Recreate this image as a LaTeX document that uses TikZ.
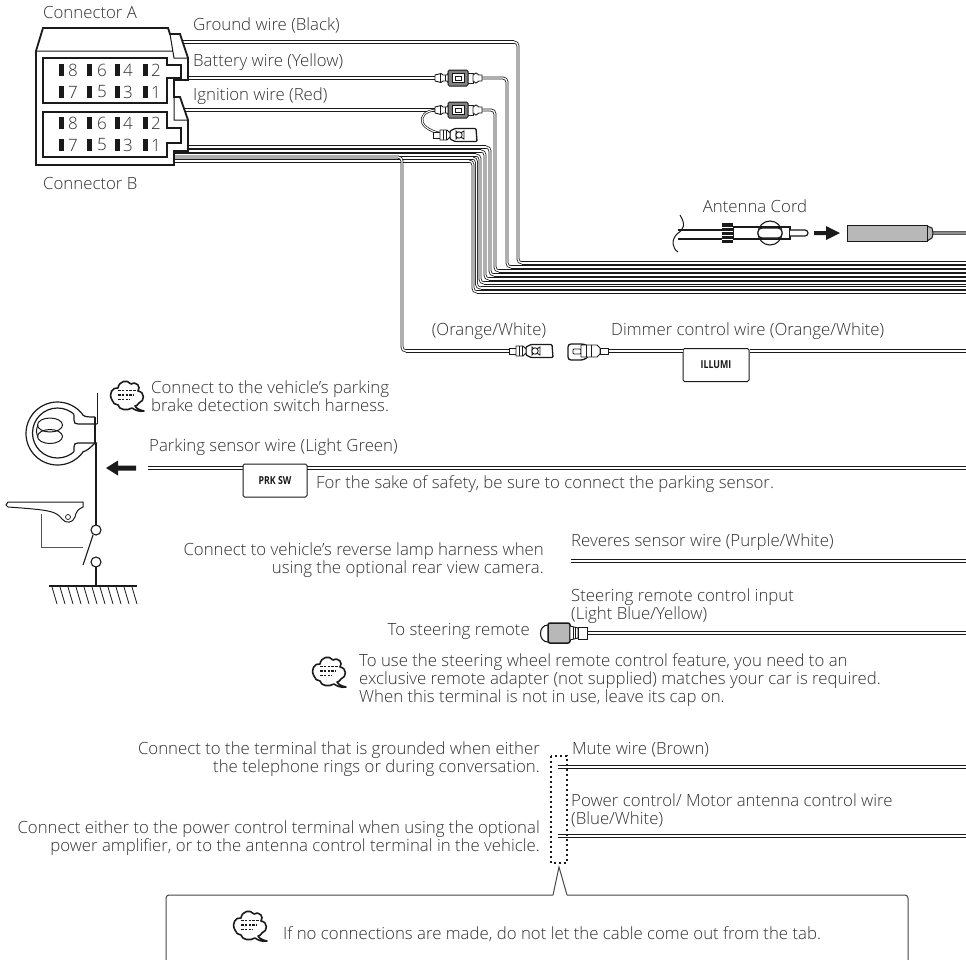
\documentclass[tikz,border=0pt]{standalone}
\usepackage{fontspec}
\setmainfont{Open Sans Light}
\newfontfamily\tagfont{Open Sans}[FakeStretch=0.8]
\definecolor{ink}{HTML}{1A1A1A}
\definecolor{txt}{HTML}{303030}
\newcommand{\straightwire}[2]{\draw[white,line width=3pt] (#1) -- (#2); \draw[ink,line width=.9pt] ([yshift=1.1pt]#1) -- ([yshift=1.1pt]#2); \draw[ink,line width=.9pt] ([yshift=-1.1pt]#1) -- ([yshift=-1.1pt]#2);}
\tikzset{
  lab/.style={inner sep=0,text=txt,font=\fontsize{16.8}{18}\selectfont,anchor=west,align=left},
  labr/.style={inner sep=0,text=txt,font=\fontsize{16.8}{18}\selectfont,anchor=east,align=right},
  wire/.style={draw=ink,line width=.8pt,double=white,double distance=1.3pt,rounded corners=4pt},
  tagbox/.style={draw=ink,line width=1pt,fill=white,rounded corners=1.5pt,inner sep=0,font=\fontsize{11}{12}\tagfont\bfseries,text=ink},
  part/.style={draw=ink,line width=.9pt,fill=white},
  pin/.style={fill=ink,draw=none},
  digit/.style={inner sep=0,text=txt,font=\fontsize{17}{18}\selectfont},
  icon/.pic={
    \draw[ink,line width=1.6pt,fill=white,line join=round] (-15,5) .. controls (-19,-2) and (-14,-8) .. (-9,-7) .. controls (-8,-14) and (0,-16) .. (4,-11) .. controls (10,-14) and (14,-8) .. (11,-4) .. controls (18,-3) and (18,6) .. (12,8) .. controls (11,10) and (9,11) .. (8,11) .. controls (9,13) and (12,15) .. (17,16) .. controls (12,17) and (8,15) .. (5,13) .. controls (0,16) and (-8,15) .. (-9,10) .. controls (-12,10) and (-14,8) .. (-15,5) -- cycle;
    \draw[ink,line width=1.5pt,dash pattern=on 2.6pt off 1.2pt] (-9,-4.5)--(10,-4.5) (-9,0)--(7,0) (-9,4.5)--(3,4.5);
  },
  malePlug/.pic={
    \draw[part] (-23,-3)--(-17,-4.5)--(-15,-3)--(-11,-3)--(-9,-6)--(-9,6)--(-11,3)--(-15,3)--(-17,4.5)--(-23,3)--cycle;
    \draw[part] (9,-5)--(15,-5)--(15,5)--(9,5)--cycle;
    \draw[part] (15,-3)--(18,-5)--(21,-3)--(24,-3)--(24,3)--(21,3)--(18,5)--(15,3)--cycle;
    \draw[draw=ink,fill=ink!55,line width=1pt,rounded corners=1.5pt] (-10,-8)--(10,-8)--(10,8)--(-10,8)--cycle;
    \draw[part] (-6,-4.5) rectangle (6,4.5);
    \draw[ink,line width=.7pt] (-3,-2) rectangle (3,2);
    \draw[ink,line width=.7pt] (-18,-4)--(-18,4) (-13,-3)--(-13,3);
  },
  femalePlug/.pic={
    \draw[part] (-23,-3) rectangle (-15,3);
    \draw[part,line width=1.3pt,rounded corners=1pt] (-6,-4)--(-1,-6.5)--(20,-6.5)--(21,6.5)--(-1,6.5)--(-6,4)--cycle;
    \draw[part] (-16,-5)--(-9,-5)--(-6,-2)--(-6,2)--(-9,5)--(-16,5)--cycle;
    \draw[ink,line width=.7pt] (-13,-5)--(-13,5) (-10,-5)--(-10,5);
    \draw[part] (0,-4)--(3,-1)--(8,-4)--(8,4)--(3,1)--(0,4)--cycle;
    \draw[part] (3,0) circle (3.2);
  },
}
\begin{document}
\begin{tikzpicture}[x=1pt,y=-1pt,line cap=butt]
\useasboundingbox[fill=white] (0,0) rectangle (966,959);
% ---------- bundle and top wires
\coordinate (endR) at (966,0);
\foreach \n/\xx/\ya/\yb in {w4/490/147/275,w5/485/151/279,w6/480/155/283,w7/476.5/158/288,w8/473/161/292}{
  \coordinate (\n s) at (170,\ya);
  \coordinate (\n c) at (\xx,\yb);
  \coordinate (\n t) at (\xx-4,\ya);
  \coordinate (\n h) at (\xx+4,\yb);
  \coordinate (\n e) at (966,\yb);
  \draw[wire] (\n s) -| (\n c) -- (\n e);
  \straightwire{\n s}{\n t}
  \straightwire{\n h}{\n e}
}
% dimmer wire
\coordinate (dimS) at (170,157);
\coordinate (dimC) at (402,351);
\coordinate (plugOW) at (532,351);
\coordinate (sockOW) at (590,351);
\coordinate (dimH) at (406,351);
\draw[wire] (dimS) -| (dimC) -- (plugOW);
\straightwire{dimH}{plugOW}
% ignition
\coordinate (ignS) at (170,110);
\coordinate (ignP) at (458,110);
\coordinate (ignC) at (495,271);
\coordinate (ignF) at (456,135);
\coordinate (ignH) at (499,271);
\coordinate (ignE) at (966,271);
\draw[wire] (ignP) -| (ignC) -- (ignE);
\straightwire{ignS}{ignP}
\straightwire{ignH}{ignE}
\draw[ink,line width=.7pt,double=white,double distance=1pt] (435,110) .. controls (415,112) and (415,134) .. (ignF);
% battery
\coordinate (batS) at (170,78);
\coordinate (batP) at (458,78);
\coordinate (batC) at (507,267);
\coordinate (batH) at (511,267);
\coordinate (batE) at (966,267);
\draw[wire] (batP) -| (batC) -- (batE);
\straightwire{batS}{batP}
\straightwire{batH}{batE}
% ground
\coordinate (gndS) at (170,42);
\coordinate (gndC) at (518,263);
\coordinate (gndT) at (514,42);
\coordinate (gndH) at (522,263);
\coordinate (gndE) at (966,263);
\draw[wire] (gndS) -| (gndC) -- (gndE);
\straightwire{gndS}{gndT}
\straightwire{gndH}{gndE}
\pic at (batP) {malePlug};
\pic at (ignP) {malePlug};
\pic at (ignF) {femalePlug};
% ---------- connector housing
\draw[ink,line width=1.8pt,fill=white,line join=miter] (43,28)--(168,28)--(170,34)--(180,34)--(188,58)--(188,80)--(174,80)--(174,97)--(180,97)--(188,120)--(188,151)--(174,151)--(174,165)--(36,165)--(36,51)--cycle;
\draw[ink,line width=1pt] (36,51)--(173,51) (170,34)--(174,58)--(188,58) (174,97)--(174,120)--(188,120);
\draw[ink,line width=1.2pt,fill=white] (43,58)--(167,58)--(167,65)--(181,65)--(181,78)--(167,78)--(167,103)--(43,103)--cycle;
\draw[ink,line width=1.2pt,fill=white] (43,112)--(167,112)--(167,128)--(181,128)--(181,143)--(167,143)--(167,157)--(43,157)--cycle;
\foreach \ya/\yb [count=\k] in {70/92,123/145}{
  \foreach \px/\dx/\da/\db in {61/73/8/7,89/102/6/5,117/128/4/3,145/156/2/1}{
    \fill[pin] (\px-2.5,\ya-6) rectangle (\px+2.5,\ya+6);
    \fill[pin] (\px-2.5,\yb-6) rectangle (\px+2.5,\yb+6);
    \node[digit] (d\k a\da) at (\dx,\ya) {\da};
    \node[digit] (d\k b\db) at (\dx,\yb) {\db};
  }
}
% labels top
\node[lab] (cA) at (43,12) {Connector A};
\node[lab] (cB) at (43,183) {Connector B};
\node[lab] (lGnd) at (193,25) {Ground wire (Black)};
\node[lab] (lBat) at (193,62) {Battery wire (Yellow)};
\node[lab] (lIgn) at (193,96) {Ignition wire (Red)};
% ---------- antenna
\node[lab,anchor=center] (lAnt) at (755,206) {Antenna Cord};
\draw[ink,line width=1pt] (680,215) .. controls (686,225) and (684,229) .. (677,234) .. controls (671,240) and (672,248) .. (678,252);
\draw[ink,line width=1.1pt] (678,230)--(722,230) (678,239)--(722,239);
\draw[part,line width=1.2pt] (733,227) rectangle (790,239);
\draw[ink,line width=1.1pt,fill=white] (770,233) circle (12);
\draw[ink,line width=1.1pt] (758,227)--(782,227) (758,239)--(790,239);
\draw[part,line width=1.2pt,rounded corners=4pt] (758,228) rectangle (782,238);
\draw[part,line width=1.2pt,rounded corners=3pt] (790,230) -- (808,230) -- (808,236) -- (790,236);
\fill[ink] (722,223) rectangle (733,243);
\draw[white,line width=.7pt] (722,227)--(733,227) (722,231)--(733,231) (722,235)--(733,235) (722,239)--(733,239);
\fill[ink] (814,231)--(826,231)--(826,226)--(840,233)--(826,240)--(826,235)--(814,235)--cycle;
\coordinate (antC) at (933,233);
\coordinate (antE) at (endR |- antC);
\draw[black!45,line width=1.8pt] (antC) -- (antE);
\draw[ink!70,line width=.7pt] ([yshift=1.3pt]antC) -- ([yshift=1.3pt]antE);
\draw[ink!70,line width=.7pt] ([yshift=-1.3pt]antC) -- ([yshift=-1.3pt]antE);
\draw[ink,line width=1pt,fill=black!28] (927,226)--(932,228)--(933,233)--(932,238)--(927,241)--cycle;
\node[draw=ink,line width=1pt,fill=black!28,minimum width=80pt,minimum height=16pt,inner sep=0] (antB) at (887,233.5) {};
% ---------- dimmer
\pic at (plugOW) {femalePlug};
\node[lab,anchor=center] (lOW) at (489,331) {(Orange/White)};
\node[lab] (lDim) at (611,331) {Dimmer control wire (Orange/White)};
\node[tagbox,minimum width=66pt,minimum height=33pt] (illumi) at (716,365) {ILLUMI};
\coordinate (illL) at (illumi.north west |- sockOW);
\coordinate (illR) at (illumi.north east |- sockOW);
\coordinate (dimE) at (endR |- sockOW);
\straightwire{sockOW}{illL}
\straightwire{illR}{dimE}
\draw[part,line width=1.3pt,rounded corners=3pt] (568,344)--(584,344)--(590,347)--(590,355)--(584,360)--(568,360)--cycle;
\draw[ink,line width=.8pt,rounded corners=1pt] (573,349) rectangle (581,354);
\draw[part] (581,345)--(597,345)--(600,348)--(600,354)--(597,357)--(581,357)--cycle;
\draw[ink,line width=.7pt] (586,345)--(586,357) (591,345)--(591,357);
\draw[part] (600,348) rectangle (608,354);
% ---------- parking
\pic at (127,395) {icon};
\node[lab] (lPk) at (151,396) {Connect to the vehicle's parking\\brake detection switch harness.};
\node[lab] (lPs) at (149,447) {Parking sensor wire (Light Green)};
\coordinate (pkS) at (148,468);
\coordinate (pkE) at (endR |- pkS);
\straightwire{pkS}{pkE}
\node[tagbox,minimum width=64pt,minimum height=33pt] (prk) at (275,480.5) {PRK SW};
\node[lab] (lSafe) at (316,484) {For the sake of safety, be sure to connect the parking sensor.};
% coil
\begin{scope}
\clip (0,390) rectangle (83,480);
\draw[ink,line width=1.2pt] (57.5,433.5) circle (31.5);
\end{scope}
\begin{scope}
\clip (0,390) rectangle (74,480);
\draw[ink,line width=1.2pt] (57.5,433) circle (25);
\end{scope}
\draw[ink,line width=1.2pt] (83,415) .. controls (85,417) and (88,417) .. (95,417);
\draw[ink,line width=1.2pt] (83,452) .. controls (88,450) and (90,448) .. (95,443);
\draw[ink,line width=1.2pt] (74,414.5)--(74,420) .. controls (74,423) and (75,424) .. (78,424) -- (97,424);
\draw[ink,line width=1.2pt] (74,451.5)--(74,447) .. controls (74,444) and (75,443) .. (78,443) -- (97,443);
\draw[ink,line width=1.8pt] (95,417)--(95,443);
\draw[ink,line width=1pt] (50,425) ellipse (12.5 and 7);
\draw[ink,line width=1pt] (50,436.5) ellipse (12.5 and 7);
\draw[ink,line width=1pt] (38,425) .. controls (36,429) and (36,433) .. (38,437);
% switch
\coordinate (swT) at (96,530);
\coordinate (swB) at (96,562);
\draw[ink,line width=1pt] (97,393)--(97,424);
\draw[ink,line width=1.1pt] (96,443)--(96,525);
\draw[ink,line width=1.1pt,fill=white] (swT) circle (5);
\draw[ink,line width=1.1pt,fill=white] (swB) circle (5);
\draw[ink,line width=1.1pt] (83,565)--(93,535);
\draw[ink,line width=1.1pt] (96,567)--(96,586);
\draw[ink,line width=2pt] (49,586)--(137,586);
\foreach \i in {0,...,10}{ \draw[ink,line width=.8pt] (52+\i*8,587)--(57+\i*8,604); }
\draw[ink!75,line width=1pt] (41,514)--(41,547)--(83,547);
\draw[ink,line width=1pt,fill=white] (8,502)--(83,502)--(83,507) .. controls (78,509) and (76,512) .. (75,517) .. controls (73,523) and (66,524) .. (62,519) .. controls (56,511) and (50,510) .. (8,507) -- (6,505) -- cycle;
\draw[ink,line width=.7pt] (68,517) circle (2.5);
\fill[ink] (106,468)--(118,460.5)--(118,465.5)--(136,465.5)--(136,470.5)--(118,470.5)--(118,475.5)--cycle;
% ---------- reverse
\node[labr] (lRev) at (544,560.5) {Connect to vehicle's reverse lamp harness when\\using the optional rear view camera.};
\node[lab] (lRevW) at (571,542) {Reveres sensor wire (Purple/White)};
\coordinate (revS) at (571,561);
\coordinate (revE) at (endR |- revS);
\straightwire{revS}{revE}
% ---------- steering
\node[lab] (lSt) at (571,606) {Steering remote control input\\(Light Blue/Yellow)};
\node[labr] (lTo) at (530,631) {To steering remote};
\coordinate (stS) at (585,633);
\coordinate (stE) at (endR |- stS);
\straightwire{stS}{stE}
\draw[ink,line width=1.1pt] (548,625) .. controls (538,625) and (538,642) .. (548,642);
\draw[draw=ink,line width=1.5pt,fill=black!28,rounded corners=2pt] (548,623) rectangle (570,643);
\draw[part] (570,626)--(578,628)--(578,638)--(570,640)--cycle;
\draw[ink,line width=.6pt] (573,627)--(573,639) (575.5,628)--(575.5,638);
\draw[part] (578,627) rectangle (587,639);
\pic at (329,671) {icon};
\node[lab] (lStN) at (359,680.5) {To use the steering wheel remote control feature, you need to an\\exclusive remote adapter (not supplied) matches your car is required.\\When this terminal is not in use, leave its cap on.};
% ---------- mute, power
\node[labr] (lMu) at (540,759) {Connect to the terminal that is grounded when either\\the telephone rings or during conversation.};
\node[lab] (lMuW) at (572,750) {Mute wire (Brown)};
\coordinate (muS) at (558,767);
\coordinate (muE) at (endR |- muS);
\straightwire{muS}{muE}
\node[lab] (lPw) at (571,810.5) {Power control/ Motor antenna control wire\\(Blue/White)};
\node[labr] (lPwC) at (540,838) {Connect either to the power control terminal when using the optional\\power amplifier, or to the antenna control terminal in the vehicle.};
\coordinate (pwS) at (558,836);
\coordinate (pwE) at (endR |- pwS);
\straightwire{pwS}{pwE}
\draw[ink,line width=1.1pt,dash pattern=on 2pt off 3pt] (551,756) rectangle (567,863);
% ---------- callout
\draw[ink!80,line width=1pt,rounded corners=3pt] (166,965)--(166,895)--(553,895);
\draw[ink!80,line width=1pt,rounded corners=3pt] (567,895)--(908,895)--(908,965);
\draw[ink!80,line width=1pt] (553,895)--(559,867)--(567,895);
\pic at (250,925) {icon};
\node[lab] (lNo) at (283,934) {If no connections are made, do not let the cable come out from the tab.};
\end{tikzpicture}
\end{document}
